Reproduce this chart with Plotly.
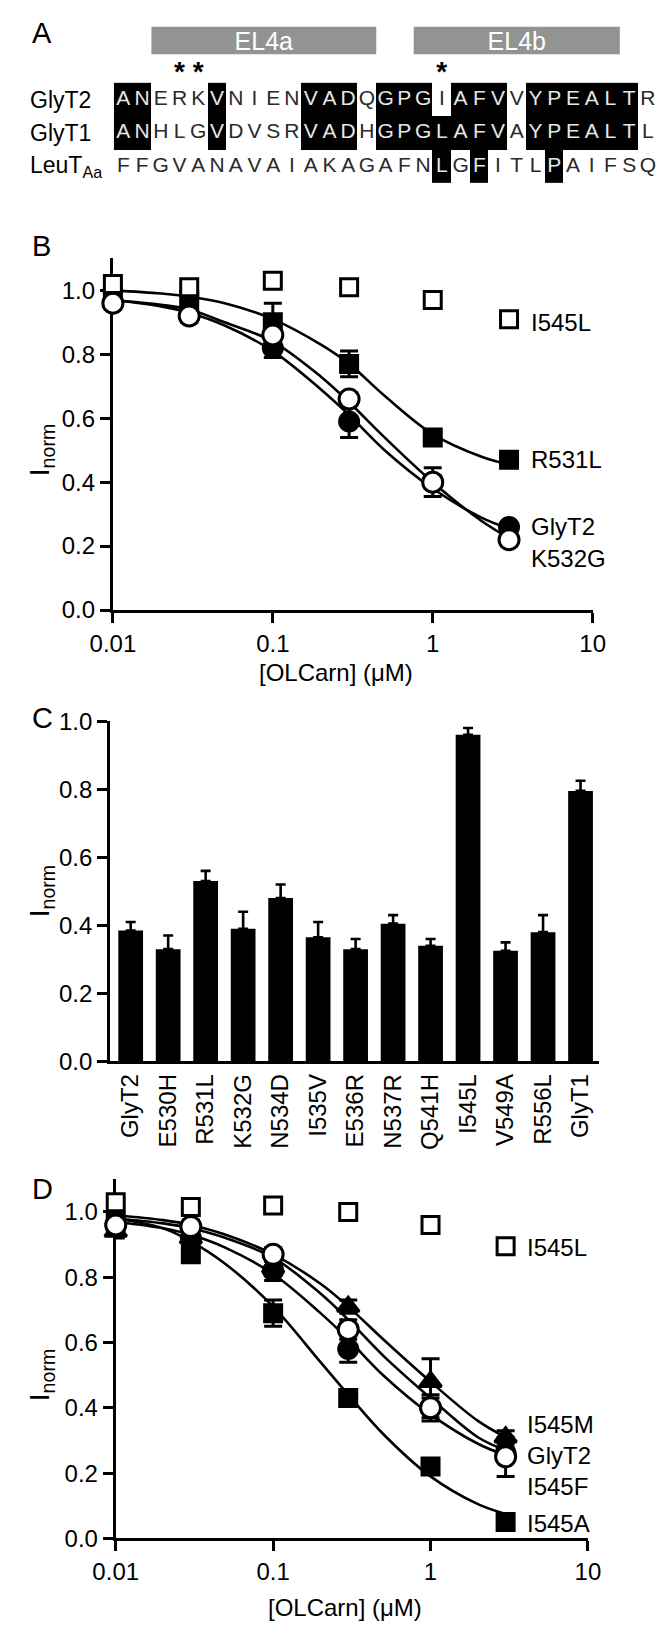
import plotly.graph_objects as go

W, H = 670, 1638
FONT = "Liberation Sans, Arial, sans-serif"

# ---------------- A: EL4 sequence alignment ----------------
seq_names = ["GlyT2", "GlyT1", "LeuT<sub>Aa</sub>"]
seqs = ["ANERKVNIENVADQGPGIAFVVYPEALTR",
        "ANHLGVDVSRVADHGPGLAFVAYPEALTL",
        "FFGVANAVAIAKAGAFNLGFITLPAIFSQ"]
ident = [
    [1, 1, 0, 0, 0, 1, 0, 0, 0, 0, 1, 1, 1, 0, 1, 1, 1, 0, 1, 1, 1, 0, 1, 1, 1, 1, 1, 1, 0],
    [1, 1, 0, 0, 0, 1, 0, 0, 0, 0, 1, 1, 1, 0, 1, 1, 1, 1, 1, 1, 1, 0, 1, 1, 1, 1, 1, 1, 0],
    [0, 0, 0, 0, 0, 0, 0, 0, 0, 0, 0, 0, 0, 0, 0, 0, 0, 1, 0, 1, 0, 0, 0, 1, 0, 0, 0, 0, 0],
]
loop_names = ["EL4a", "EL4b"]
loop_first = [2, 16]
loop_last = [13, 26]
starred = [3, 4, 17]

# ---------------- B: OLCarn dose response ----------------
conc = [0.01, 0.03, 0.1, 0.3, 1, 3]
b_I545L = [1.02, 1.01, 1.03, 1.01, 0.97, 0.91]
b_R531L = [0.98, 0.97, 0.90, 0.77, 0.54, 0.47]
b_R531L_err = [0.0, 0.02, 0.06, 0.04, 0.02, 0.01]
b_GlyT2 = [0.96, 0.92, 0.82, 0.59, 0.40, 0.26]
b_GlyT2_err = [0.02, 0.02, 0.03, 0.05, 0.045, 0.01]
b_K532G = [0.96, 0.92, 0.86, 0.66, 0.40, 0.22]
b_K532G_err = [0.02, 0.01, 0.03, 0.02, 0.02, 0.02]

fit_conc = [0.01, 0.02, 0.03, 0.05, 0.1, 0.2, 0.3, 0.5, 1, 2, 3]
fit_b_R531L = [1.00, 0.99, 0.98, 0.96, 0.91, 0.83, 0.77, 0.67, 0.55, 0.48, 0.455]
fit_b_GlyT2 = [0.97, 0.95, 0.93, 0.89, 0.81, 0.69, 0.61, 0.50, 0.38, 0.29, 0.255]
fit_b_K532G = [0.97, 0.955, 0.94, 0.90, 0.84, 0.73, 0.65, 0.54, 0.40, 0.28, 0.225]

b_labels = ["I545L", "R531L", "GlyT2", "K532G"]
b_label_y = [0.90, 0.47, 0.26, 0.16]

# ---------------- C: 3 uM OLCarn, mutants ----------------
mutants = ["GlyT2", "E530H", "R531L", "K532G", "N534D", "I535V", "E536R",
           "N537R", "Q541H", "I545L", "V549A", "R556L", "GlyT1"]
c_mean = [0.385, 0.33, 0.53, 0.39, 0.48, 0.365, 0.33, 0.405, 0.34, 0.96, 0.325, 0.38, 0.795]
c_sem = [0.025, 0.04, 0.03, 0.05, 0.04, 0.045, 0.03, 0.025, 0.02, 0.02, 0.025, 0.05, 0.03]

# ---------------- D: I545 mutants ----------------
d_I545L = [1.03, 1.015, 1.02, 1.00, 0.96, 0.895]
d_I545M = [0.94, 0.92, 0.83, 0.71, 0.48, 0.31]
d_I545M_err = [0.02, 0.02, 0.02, 0.02, 0.07, 0.02]
d_GlyT2 = [0.96, 0.92, 0.82, 0.58, 0.40, 0.26]
d_GlyT2_err = [0.02, 0.02, 0.03, 0.04, 0.03, 0.02]
d_I545F = [0.96, 0.955, 0.87, 0.64, 0.40, 0.25]
d_I545F_err = [0.02, 0.02, 0.02, 0.03, 0.04, 0.06]
d_I545A = [0.97, 0.87, 0.69, 0.43, 0.22, 0.05]
d_I545A_err = [0.02, 0.02, 0.04, 0.02, 0.02, 0.01]

fit_d_I545M = [0.99, 0.975, 0.96, 0.93, 0.87, 0.78, 0.71, 0.61, 0.48, 0.36, 0.31]
fit_d_I545F = [0.98, 0.965, 0.95, 0.92, 0.86, 0.75, 0.67, 0.56, 0.43, 0.31, 0.27]
fit_d_GlyT2 = [0.97, 0.95, 0.93, 0.89, 0.81, 0.69, 0.61, 0.50, 0.38, 0.29, 0.255]
fit_d_I545A = [0.98, 0.95, 0.91, 0.84, 0.71, 0.54, 0.44, 0.32, 0.19, 0.105, 0.075]

d_labels = ["I545L", "I545M", "GlyT2", "I545F", "I545A"]
d_label_y = [0.89, 0.35, 0.255, 0.16, 0.045]


def xp(px):
    return px / W


def yp(px):
    return 1 - px / H


fig = go.Figure()

# ---- panel A ----
fig.add_trace(go.Heatmap(z=ident, x=list(range(len(seqs[0]))), y=[0, 1, 2],
                         colorscale=[[0, "white"], [1, "black"]], zmin=0, zmax=1,
                         showscale=False, hoverinfo="skip", xaxis="x4", yaxis="y4"))
lx, ly, lt, lc = [], [], [], []
for r, s in enumerate(seqs):
    for i, ch in enumerate(s):
        lx.append(i)
        ly.append(r)
        lt.append(ch)
        lc.append("#e6e6e6" if ident[r][i] else "#2a2a2a")
fig.add_trace(go.Scatter(x=lx, y=ly, text=lt, mode="text", textfont=dict(size=21, color=lc, family=FONT),
                         hoverinfo="skip", xaxis="x4", yaxis="y4"))
fig.add_trace(go.Bar(y=[-1.765] * 2, x=[b - a + 1 for a, b in zip(loop_first, loop_last)],
                     base=[a - 0.5 for a in loop_first], orientation="h", width=0.82,
                     marker=dict(color="#939393", line=dict(width=0)),
                     text=loop_names, textposition="inside", insidetextanchor="middle",
                     constraintext="none", textfont=dict(size=25, color="white", family=FONT),
                     hoverinfo="skip", xaxis="x4", yaxis="y4"))
fig.add_trace(go.Scatter(x=starred, y=[-0.75] * len(starred), text=["*"] * len(starred), mode="text",
                         textfont=dict(size=28, color="black", family=FONT, weight="bold"),
                         hoverinfo="skip", xaxis="x4", yaxis="y4"))
for r, name in enumerate(seq_names):
    fig.add_annotation(x=-5.1, y=r, xref="x4", yref="y4", text=name, showarrow=False,
                       xanchor="left", yanchor="middle", font=dict(size=23, color="black", family=FONT))


# ---- curve panels ----
def line(x, y, ax):
    fig.add_trace(go.Scatter(x=x, y=y, mode="lines", line=dict(color="black", width=2.6, shape="spline"),
                             hoverinfo="skip", xaxis=ax[0], yaxis=ax[1]))


def pts(y, err, symbol, fill, size, ax):
    fig.add_trace(go.Scatter(
        x=conc, y=y, mode="markers", cliponaxis=False, xaxis=ax[0], yaxis=ax[1],
        marker=dict(symbol=symbol, size=size, color=fill, line=dict(color="black", width=3)),
        error_y=dict(type="data", array=err, visible=err is not None, color="black", thickness=3, width=9)))


AB = ("x", "y")
for f in (fit_b_R531L, fit_b_GlyT2, fit_b_K532G):
    line(fit_conc, f, AB)
pts(b_R531L, b_R531L_err, "square", "black", 17, AB)
pts(b_GlyT2, b_GlyT2_err, "circle", "black", 19, AB)
pts(b_K532G, b_K532G_err, "circle", "white", 20, AB)
pts(b_I545L, None, "square", "white", 17, AB)

AD = ("x3", "y3")
for f in (fit_d_I545M, fit_d_I545F, fit_d_GlyT2, fit_d_I545A):
    line(fit_conc, f, AD)
pts(d_I545A, d_I545A_err, "square", "black", 17, AD)
pts(d_I545M, d_I545M_err, "triangle-up", "black", 19, AD)
pts(d_GlyT2, d_GlyT2_err, "circle", "black", 19, AD)
pts(d_I545F, d_I545F_err, "circle", "white", 20, AD)
pts(d_I545L, None, "square", "white", 17, AD)

# ---- panel C bars ----
fig.add_trace(go.Bar(x=mutants, y=c_mean, width=0.66, marker=dict(color="black", line=dict(width=0)),
                     error_y=dict(type="data", array=c_sem, arrayminus=[0] * len(c_sem), symmetric=False,
                                  color="black", thickness=2.6, width=5),
                     hoverinfo="skip", xaxis="x2", yaxis="y2"))

# ---- axes ----
base = dict(showline=True, linewidth=3, linecolor="black", showgrid=False, zeroline=False,
            ticks="outside", ticklen=10, tickwidth=3, tickcolor="black",
            tickfont=dict(size=24, color="black", family=FONT), layer="below traces")
yt = [0, 0.2, 0.4, 0.6, 0.8, 1.0]
ytt = ["%.1f" % v for v in yt]
logx = dict(type="log", range=[-2, 1], tickvals=[0.01, 0.1, 1, 10], ticktext=["0.01", "0.1", "1", "10"])

fig.update_layout(
    xaxis=dict(base, domain=[xp(95), xp(602)], anchor="y", **logx),
    yaxis=dict(base, domain=[yp(606), yp(606 - 1.1 * 325)], range=[0, 1.1], tickvals=yt, ticktext=ytt, anchor="x"),
    xaxis2=dict(base, domain=[xp(92), xp(609)], anchor="y2", type="category", range=[-0.55, 12.5],
                ticks="", tickangle=-90),
    yaxis2=dict(base, domain=[yp(1065), yp(719)], range=[0, 1.0], tickvals=yt, ticktext=ytt, anchor="x2"),
    xaxis3=dict(base, domain=[xp(98), xp(597)], anchor="y3", **logx),
    yaxis3=dict(base, domain=[yp(1550), yp(1550 - 1.1 * 332)], range=[0, 1.1], tickvals=yt, ticktext=ytt,
                anchor="x3"),
    xaxis4=dict(domain=[0, 1], range=[-106 / 19.8, (W - 106) / 19.8], visible=False, anchor="y4"),
    yaxis4=dict(domain=[yp(175), 1], range=[(175 - 87) / 34, -87 / 34], visible=False, anchor="x4"),
)

# ---- text ----
for lab, ypx in (("A", 19), ("B", 236), ("C", 716), ("D", 1195)):
    fig.add_annotation(x=xp(7), y=yp(ypx), xref="paper", yref="paper", text=lab, showarrow=False,
                       xanchor="left", yanchor="middle", font=dict(size=29, color="black", family=FONT))
for ypx in ((281 + 606) / 2, (719 + 1065) / 2, (1218 + 1550) / 2):
    fig.add_annotation(x=xp(19), y=yp(ypx), xref="paper", yref="paper", text="I<sub>norm</sub>",
                       textangle=-90, showarrow=False, xanchor="center", yanchor="middle",
                       font=dict(size=28, color="black", family=FONT))
for xpx, ypx in ((331, 670), (340, 1620)):
    fig.add_annotation(x=xp(xpx), y=yp(ypx), xref="paper", yref="paper", text="[OLCarn] (μM)",
                       showarrow=False, xanchor="center", yanchor="middle",
                       font=dict(size=24, color="black", family=FONT))
for lab, v in zip(b_labels, b_label_y):
    fig.add_annotation(x=0.6, y=v, xref="x", yref="y", text=lab, showarrow=False, xanchor="left",
                       yanchor="middle", font=dict(size=24, color="black", family=FONT))
for lab, v in zip(d_labels, d_label_y):
    fig.add_annotation(x=0.6, y=v, xref="x3", yref="y3", text=lab, showarrow=False, xanchor="left",
                       yanchor="middle", font=dict(size=24, color="black", family=FONT))

fig.update_layout(width=W, height=H, margin=dict(l=0, r=0, t=0, b=0), showlegend=False,
                  plot_bgcolor="white", paper_bgcolor="white", bargap=0.34,
                  font=dict(family=FONT, color="black"))

# the page body has a default 8px margin; drop it so the figure sits at the window's corner
fig.write_html("out.html", config={"displayModeBar": False},
               post_script="document.body.style.margin='0';")
